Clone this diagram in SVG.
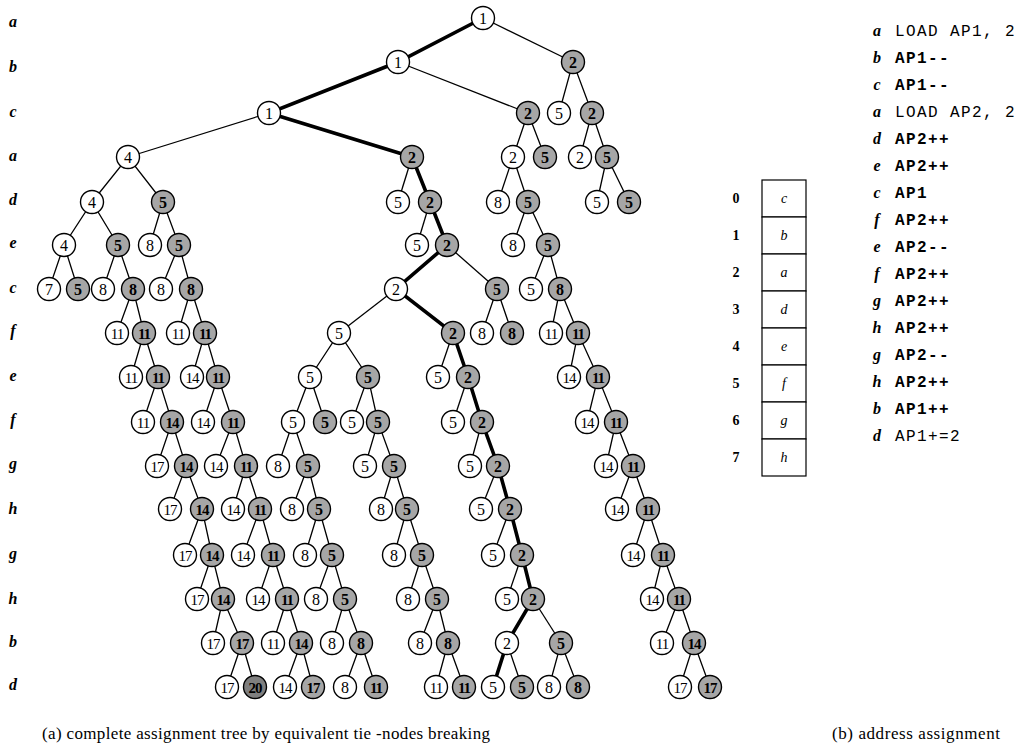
<svg xmlns="http://www.w3.org/2000/svg" width="1029" height="746" viewBox="0 0 1029 746">
<style>
.e path{fill:none;stroke:#000;stroke-width:1.3}
.e .t{stroke-width:3.6}
.w circle{fill:#fff;stroke:#000;stroke-width:1.4}
.s circle{fill:#a6a6a6;stroke:#000;stroke-width:1.4}
.d circle{fill:#7f7f7f;stroke:#000;stroke-width:1.4}
.nd text{font-family:"Liberation Serif",serif;font-size:16px;text-anchor:middle}
.s text,.d text{font-weight:bold}
.nd text.two{font-size:15px;letter-spacing:-1px}
.lv{font-family:"Liberation Serif",serif;font-size:16px;font-style:italic;font-weight:bold;text-anchor:middle}
.cap{font-family:"Liberation Serif",serif;font-size:17px}
.code{font-family:"Liberation Mono",monospace;font-size:16px;letter-spacing:1.4px}
.code.b{font-weight:bold}
.cell rect{fill:#fff;stroke:#000;stroke-width:1.2}
.ci{font-family:"Liberation Serif",serif;font-size:14px;font-style:italic;text-anchor:middle}
.idx{font-family:"Liberation Serif",serif;font-size:14px;font-weight:bold;text-anchor:middle}
</style>
<rect width="1029" height="746" fill="#fff"/>
<g id="levels">
<text class="lv" x="13" y="27">a</text>
<text class="lv" x="13" y="72">b</text>
<text class="lv" x="13" y="117">c</text>
<text class="lv" x="13" y="161">a</text>
<text class="lv" x="13" y="205">d</text>
<text class="lv" x="13" y="248">e</text>
<text class="lv" x="13" y="293">c</text>
<text class="lv" x="13" y="336">f</text>
<text class="lv" x="13" y="381">e</text>
<text class="lv" x="13" y="425">f</text>
<text class="lv" x="13" y="469">g</text>
<text class="lv" x="13" y="514">h</text>
<text class="lv" x="13" y="559">g</text>
<text class="lv" x="13" y="604">h</text>
<text class="lv" x="13" y="647">b</text>
<text class="lv" x="13" y="690">d</text>
</g>
<g id="connectors" class="e">
<path class="t" d="M483 18L398 62L269 113L412 157L430 202L447 245L396 289L453 333L468 377L482 422L498 466L510 509L522 555L533 599L507 643L493 687"/>
<path d="M483 18L573 62"/>
<path d="M398 62L528 113"/>
<path d="M559 113L573 62L592 113"/>
<path d="M269 113L128 157"/>
<path d="M513 157L528 113L545 157"/>
<path d="M580 157L592 113L607 157"/>
<path d="M92 202L128 157L163 202"/>
<path d="M412 157L398 202"/>
<path d="M498 202L513 157L528 202"/>
<path d="M597 202L607 157L629 202"/>
<path d="M64 245L92 202L118 245"/>
<path d="M150 245L163 202L179 245"/>
<path d="M430 202L417 245"/>
<path d="M513 245L528 202L548 245"/>
<path d="M49 289L64 245L78 289"/>
<path d="M103 289L118 245L133 289"/>
<path d="M161 289L179 245L191 289"/>
<path d="M447 245L497 289"/>
<path d="M531 289L548 245L560 289"/>
<path d="M117 333L133 289L144 333"/>
<path d="M178 333L191 289L205 333"/>
<path d="M396 289L339 333"/>
<path d="M482 333L497 289L512 333"/>
<path d="M551 333L560 289L578 333"/>
<path d="M131 377L144 333L158 377"/>
<path d="M192 377L205 333L218 377"/>
<path d="M310 377L339 333L368 377"/>
<path d="M453 333L438 377"/>
<path d="M569 377L578 333L598 377"/>
<path d="M143 422L158 377L172 422"/>
<path d="M203 422L218 377L233 422"/>
<path d="M293 422L310 377L325 422"/>
<path d="M352 422L368 377L378 422"/>
<path d="M468 377L453 422"/>
<path d="M587 422L598 377L616 422"/>
<path d="M157 466L172 422L186 466"/>
<path d="M216 466L233 422L246 466"/>
<path d="M278 466L293 422L308 466"/>
<path d="M365 466L378 422L394 466"/>
<path d="M482 422L470 466"/>
<path d="M606 466L616 422L633 466"/>
<path d="M170 509L186 466L202 509"/>
<path d="M233 509L246 466L260 509"/>
<path d="M292 509L308 466L319 509"/>
<path d="M381 509L394 466L407 509"/>
<path d="M498 466L481 509"/>
<path d="M617 509L633 466L648 509"/>
<path d="M185 555L202 509L212 555"/>
<path d="M243 555L260 509L273 555"/>
<path d="M305 555L319 509L332 555"/>
<path d="M394 555L407 509L422 555"/>
<path d="M510 509L493 555"/>
<path d="M633 555L648 509L663 555"/>
<path d="M197 599L212 555L223 599"/>
<path d="M258 599L273 555L287 599"/>
<path d="M316 599L332 555L345 599"/>
<path d="M408 599L422 555L437 599"/>
<path d="M522 555L507 599"/>
<path d="M652 599L663 555L679 599"/>
<path d="M213 643L223 599L242 643"/>
<path d="M273 643L287 599L301 643"/>
<path d="M332 643L345 599L361 643"/>
<path d="M420 643L437 599L448 643"/>
<path d="M533 599L561 643"/>
<path d="M662 643L679 599L694 643"/>
<path d="M227 687L242 643L255 687"/>
<path d="M285 687L301 643L313 687"/>
<path d="M345 687L361 643L376 687"/>
<path d="M436 687L448 643L464 687"/>
<path d="M507 643L522 687"/>
<path d="M549 687L561 643L578 687"/>
<path d="M680 687L694 643L710 687"/>
</g>
<g id="nodes" class="nd">
<g id="n0_483" class="w"><circle cx="483" cy="18" r="11.5"/><text x="483" y="23.5">1</text></g>
<g id="n1_398" class="w"><circle cx="398" cy="62" r="11.5"/><text x="398" y="67.5">1</text></g>
<g id="n1_573" class="s"><circle cx="573" cy="62" r="11.5"/><text x="573" y="67.5">2</text></g>
<g id="n2_269" class="w"><circle cx="269" cy="113" r="11.5"/><text x="269" y="118.5">1</text></g>
<g id="n2_528" class="s"><circle cx="528" cy="113" r="11.5"/><text x="528" y="118.5">2</text></g>
<g id="n2_559" class="w"><circle cx="559" cy="113" r="11.5"/><text x="559" y="118.5">5</text></g>
<g id="n2_592" class="s"><circle cx="592" cy="113" r="11.5"/><text x="592" y="118.5">2</text></g>
<g id="n3_128" class="w"><circle cx="128" cy="157" r="11.5"/><text x="128" y="162.5">4</text></g>
<g id="n3_412" class="s"><circle cx="412" cy="157" r="11.5"/><text x="412" y="162.5">2</text></g>
<g id="n3_513" class="w"><circle cx="513" cy="157" r="11.5"/><text x="513" y="162.5">2</text></g>
<g id="n3_545" class="s"><circle cx="545" cy="157" r="11.5"/><text x="545" y="162.5">5</text></g>
<g id="n3_580" class="w"><circle cx="580" cy="157" r="11.5"/><text x="580" y="162.5">2</text></g>
<g id="n3_607" class="s"><circle cx="607" cy="157" r="11.5"/><text x="607" y="162.5">5</text></g>
<g id="n4_92" class="w"><circle cx="92" cy="202" r="11.5"/><text x="92" y="207.5">4</text></g>
<g id="n4_163" class="s"><circle cx="163" cy="202" r="11.5"/><text x="163" y="207.5">5</text></g>
<g id="n4_398" class="w"><circle cx="398" cy="202" r="11.5"/><text x="398" y="207.5">5</text></g>
<g id="n4_430" class="s"><circle cx="430" cy="202" r="11.5"/><text x="430" y="207.5">2</text></g>
<g id="n4_498" class="w"><circle cx="498" cy="202" r="11.5"/><text x="498" y="207.5">8</text></g>
<g id="n4_528" class="s"><circle cx="528" cy="202" r="11.5"/><text x="528" y="207.5">5</text></g>
<g id="n4_597" class="w"><circle cx="597" cy="202" r="11.5"/><text x="597" y="207.5">5</text></g>
<g id="n4_629" class="s"><circle cx="629" cy="202" r="11.5"/><text x="629" y="207.5">5</text></g>
<g id="n5_64" class="w"><circle cx="64" cy="245" r="11.5"/><text x="64" y="250.5">4</text></g>
<g id="n5_118" class="s"><circle cx="118" cy="245" r="11.5"/><text x="118" y="250.5">5</text></g>
<g id="n5_150" class="w"><circle cx="150" cy="245" r="11.5"/><text x="150" y="250.5">8</text></g>
<g id="n5_179" class="s"><circle cx="179" cy="245" r="11.5"/><text x="179" y="250.5">5</text></g>
<g id="n5_417" class="w"><circle cx="417" cy="245" r="11.5"/><text x="417" y="250.5">5</text></g>
<g id="n5_447" class="s"><circle cx="447" cy="245" r="11.5"/><text x="447" y="250.5">2</text></g>
<g id="n5_513" class="w"><circle cx="513" cy="245" r="11.5"/><text x="513" y="250.5">8</text></g>
<g id="n5_548" class="s"><circle cx="548" cy="245" r="11.5"/><text x="548" y="250.5">5</text></g>
<g id="n6_49" class="w"><circle cx="49" cy="289" r="11.5"/><text x="49" y="294.5">7</text></g>
<g id="n6_78" class="s"><circle cx="78" cy="289" r="11.5"/><text x="78" y="294.5">5</text></g>
<g id="n6_103" class="w"><circle cx="103" cy="289" r="11.5"/><text x="103" y="294.5">8</text></g>
<g id="n6_133" class="s"><circle cx="133" cy="289" r="11.5"/><text x="133" y="294.5">8</text></g>
<g id="n6_161" class="w"><circle cx="161" cy="289" r="11.5"/><text x="161" y="294.5">8</text></g>
<g id="n6_191" class="s"><circle cx="191" cy="289" r="11.5"/><text x="191" y="294.5">8</text></g>
<g id="n6_396" class="w"><circle cx="396" cy="289" r="11.5"/><text x="396" y="294.5">2</text></g>
<g id="n6_497" class="s"><circle cx="497" cy="289" r="11.5"/><text x="497" y="294.5">5</text></g>
<g id="n6_531" class="w"><circle cx="531" cy="289" r="11.5"/><text x="531" y="294.5">5</text></g>
<g id="n6_560" class="s"><circle cx="560" cy="289" r="11.5"/><text x="560" y="294.5">8</text></g>
<g id="n7_117" class="w"><circle cx="117" cy="333" r="11.5"/><text class="two" x="117" y="338.5">11</text></g>
<g id="n7_144" class="s"><circle cx="144" cy="333" r="11.5"/><text class="two" x="144" y="338.5">11</text></g>
<g id="n7_178" class="w"><circle cx="178" cy="333" r="11.5"/><text class="two" x="178" y="338.5">11</text></g>
<g id="n7_205" class="s"><circle cx="205" cy="333" r="11.5"/><text class="two" x="205" y="338.5">11</text></g>
<g id="n7_339" class="w"><circle cx="339" cy="333" r="11.5"/><text x="339" y="338.5">5</text></g>
<g id="n7_453" class="s"><circle cx="453" cy="333" r="11.5"/><text x="453" y="338.5">2</text></g>
<g id="n7_482" class="w"><circle cx="482" cy="333" r="11.5"/><text x="482" y="338.5">8</text></g>
<g id="n7_512" class="s"><circle cx="512" cy="333" r="11.5"/><text x="512" y="338.5">8</text></g>
<g id="n7_551" class="w"><circle cx="551" cy="333" r="11.5"/><text class="two" x="551" y="338.5">11</text></g>
<g id="n7_578" class="s"><circle cx="578" cy="333" r="11.5"/><text class="two" x="578" y="338.5">11</text></g>
<g id="n8_131" class="w"><circle cx="131" cy="377" r="11.5"/><text class="two" x="131" y="382.5">11</text></g>
<g id="n8_158" class="s"><circle cx="158" cy="377" r="11.5"/><text class="two" x="158" y="382.5">11</text></g>
<g id="n8_192" class="w"><circle cx="192" cy="377" r="11.5"/><text class="two" x="192" y="382.5">14</text></g>
<g id="n8_218" class="s"><circle cx="218" cy="377" r="11.5"/><text class="two" x="218" y="382.5">11</text></g>
<g id="n8_310" class="w"><circle cx="310" cy="377" r="11.5"/><text x="310" y="382.5">5</text></g>
<g id="n8_368" class="s"><circle cx="368" cy="377" r="11.5"/><text x="368" y="382.5">5</text></g>
<g id="n8_438" class="w"><circle cx="438" cy="377" r="11.5"/><text x="438" y="382.5">5</text></g>
<g id="n8_468" class="s"><circle cx="468" cy="377" r="11.5"/><text x="468" y="382.5">2</text></g>
<g id="n8_569" class="w"><circle cx="569" cy="377" r="11.5"/><text class="two" x="569" y="382.5">14</text></g>
<g id="n8_598" class="s"><circle cx="598" cy="377" r="11.5"/><text class="two" x="598" y="382.5">11</text></g>
<g id="n9_143" class="w"><circle cx="143" cy="422" r="11.5"/><text class="two" x="143" y="427.5">11</text></g>
<g id="n9_172" class="s"><circle cx="172" cy="422" r="11.5"/><text class="two" x="172" y="427.5">14</text></g>
<g id="n9_203" class="w"><circle cx="203" cy="422" r="11.5"/><text class="two" x="203" y="427.5">14</text></g>
<g id="n9_233" class="s"><circle cx="233" cy="422" r="11.5"/><text class="two" x="233" y="427.5">11</text></g>
<g id="n9_293" class="w"><circle cx="293" cy="422" r="11.5"/><text x="293" y="427.5">5</text></g>
<g id="n9_325" class="s"><circle cx="325" cy="422" r="11.5"/><text x="325" y="427.5">5</text></g>
<g id="n9_352" class="w"><circle cx="352" cy="422" r="11.5"/><text x="352" y="427.5">5</text></g>
<g id="n9_378" class="s"><circle cx="378" cy="422" r="11.5"/><text x="378" y="427.5">5</text></g>
<g id="n9_453" class="w"><circle cx="453" cy="422" r="11.5"/><text x="453" y="427.5">5</text></g>
<g id="n9_482" class="s"><circle cx="482" cy="422" r="11.5"/><text x="482" y="427.5">2</text></g>
<g id="n9_587" class="w"><circle cx="587" cy="422" r="11.5"/><text class="two" x="587" y="427.5">14</text></g>
<g id="n9_616" class="s"><circle cx="616" cy="422" r="11.5"/><text class="two" x="616" y="427.5">11</text></g>
<g id="n10_157" class="w"><circle cx="157" cy="466" r="11.5"/><text class="two" x="157" y="471.5">17</text></g>
<g id="n10_186" class="s"><circle cx="186" cy="466" r="11.5"/><text class="two" x="186" y="471.5">14</text></g>
<g id="n10_216" class="w"><circle cx="216" cy="466" r="11.5"/><text class="two" x="216" y="471.5">14</text></g>
<g id="n10_246" class="s"><circle cx="246" cy="466" r="11.5"/><text class="two" x="246" y="471.5">11</text></g>
<g id="n10_278" class="w"><circle cx="278" cy="466" r="11.5"/><text x="278" y="471.5">8</text></g>
<g id="n10_308" class="s"><circle cx="308" cy="466" r="11.5"/><text x="308" y="471.5">5</text></g>
<g id="n10_365" class="w"><circle cx="365" cy="466" r="11.5"/><text x="365" y="471.5">5</text></g>
<g id="n10_394" class="s"><circle cx="394" cy="466" r="11.5"/><text x="394" y="471.5">5</text></g>
<g id="n10_470" class="w"><circle cx="470" cy="466" r="11.5"/><text x="470" y="471.5">5</text></g>
<g id="n10_498" class="s"><circle cx="498" cy="466" r="11.5"/><text x="498" y="471.5">2</text></g>
<g id="n10_606" class="w"><circle cx="606" cy="466" r="11.5"/><text class="two" x="606" y="471.5">14</text></g>
<g id="n10_633" class="s"><circle cx="633" cy="466" r="11.5"/><text class="two" x="633" y="471.5">11</text></g>
<g id="n11_170" class="w"><circle cx="170" cy="509" r="11.5"/><text class="two" x="170" y="514.5">17</text></g>
<g id="n11_202" class="s"><circle cx="202" cy="509" r="11.5"/><text class="two" x="202" y="514.5">14</text></g>
<g id="n11_233" class="w"><circle cx="233" cy="509" r="11.5"/><text class="two" x="233" y="514.5">14</text></g>
<g id="n11_260" class="s"><circle cx="260" cy="509" r="11.5"/><text class="two" x="260" y="514.5">11</text></g>
<g id="n11_292" class="w"><circle cx="292" cy="509" r="11.5"/><text x="292" y="514.5">8</text></g>
<g id="n11_319" class="s"><circle cx="319" cy="509" r="11.5"/><text x="319" y="514.5">5</text></g>
<g id="n11_381" class="w"><circle cx="381" cy="509" r="11.5"/><text x="381" y="514.5">8</text></g>
<g id="n11_407" class="s"><circle cx="407" cy="509" r="11.5"/><text x="407" y="514.5">5</text></g>
<g id="n11_481" class="w"><circle cx="481" cy="509" r="11.5"/><text x="481" y="514.5">5</text></g>
<g id="n11_510" class="s"><circle cx="510" cy="509" r="11.5"/><text x="510" y="514.5">2</text></g>
<g id="n11_617" class="w"><circle cx="617" cy="509" r="11.5"/><text class="two" x="617" y="514.5">14</text></g>
<g id="n11_648" class="s"><circle cx="648" cy="509" r="11.5"/><text class="two" x="648" y="514.5">11</text></g>
<g id="n12_185" class="w"><circle cx="185" cy="555" r="11.5"/><text class="two" x="185" y="560.5">17</text></g>
<g id="n12_212" class="s"><circle cx="212" cy="555" r="11.5"/><text class="two" x="212" y="560.5">14</text></g>
<g id="n12_243" class="w"><circle cx="243" cy="555" r="11.5"/><text class="two" x="243" y="560.5">14</text></g>
<g id="n12_273" class="s"><circle cx="273" cy="555" r="11.5"/><text class="two" x="273" y="560.5">11</text></g>
<g id="n12_305" class="w"><circle cx="305" cy="555" r="11.5"/><text x="305" y="560.5">8</text></g>
<g id="n12_332" class="s"><circle cx="332" cy="555" r="11.5"/><text x="332" y="560.5">5</text></g>
<g id="n12_394" class="w"><circle cx="394" cy="555" r="11.5"/><text x="394" y="560.5">8</text></g>
<g id="n12_422" class="s"><circle cx="422" cy="555" r="11.5"/><text x="422" y="560.5">5</text></g>
<g id="n12_493" class="w"><circle cx="493" cy="555" r="11.5"/><text x="493" y="560.5">5</text></g>
<g id="n12_522" class="s"><circle cx="522" cy="555" r="11.5"/><text x="522" y="560.5">2</text></g>
<g id="n12_633" class="w"><circle cx="633" cy="555" r="11.5"/><text class="two" x="633" y="560.5">14</text></g>
<g id="n12_663" class="s"><circle cx="663" cy="555" r="11.5"/><text class="two" x="663" y="560.5">11</text></g>
<g id="n13_197" class="w"><circle cx="197" cy="599" r="11.5"/><text class="two" x="197" y="604.5">17</text></g>
<g id="n13_223" class="s"><circle cx="223" cy="599" r="11.5"/><text class="two" x="223" y="604.5">14</text></g>
<g id="n13_258" class="w"><circle cx="258" cy="599" r="11.5"/><text class="two" x="258" y="604.5">14</text></g>
<g id="n13_287" class="s"><circle cx="287" cy="599" r="11.5"/><text class="two" x="287" y="604.5">11</text></g>
<g id="n13_316" class="w"><circle cx="316" cy="599" r="11.5"/><text x="316" y="604.5">8</text></g>
<g id="n13_345" class="s"><circle cx="345" cy="599" r="11.5"/><text x="345" y="604.5">5</text></g>
<g id="n13_408" class="w"><circle cx="408" cy="599" r="11.5"/><text x="408" y="604.5">8</text></g>
<g id="n13_437" class="s"><circle cx="437" cy="599" r="11.5"/><text x="437" y="604.5">5</text></g>
<g id="n13_507" class="w"><circle cx="507" cy="599" r="11.5"/><text x="507" y="604.5">5</text></g>
<g id="n13_533" class="s"><circle cx="533" cy="599" r="11.5"/><text x="533" y="604.5">2</text></g>
<g id="n13_652" class="w"><circle cx="652" cy="599" r="11.5"/><text class="two" x="652" y="604.5">14</text></g>
<g id="n13_679" class="s"><circle cx="679" cy="599" r="11.5"/><text class="two" x="679" y="604.5">11</text></g>
<g id="n14_213" class="w"><circle cx="213" cy="643" r="11.5"/><text class="two" x="213" y="648.5">17</text></g>
<g id="n14_242" class="s"><circle cx="242" cy="643" r="11.5"/><text class="two" x="242" y="648.5">17</text></g>
<g id="n14_273" class="w"><circle cx="273" cy="643" r="11.5"/><text class="two" x="273" y="648.5">11</text></g>
<g id="n14_301" class="s"><circle cx="301" cy="643" r="11.5"/><text class="two" x="301" y="648.5">14</text></g>
<g id="n14_332" class="w"><circle cx="332" cy="643" r="11.5"/><text x="332" y="648.5">8</text></g>
<g id="n14_361" class="s"><circle cx="361" cy="643" r="11.5"/><text x="361" y="648.5">8</text></g>
<g id="n14_420" class="w"><circle cx="420" cy="643" r="11.5"/><text x="420" y="648.5">8</text></g>
<g id="n14_448" class="s"><circle cx="448" cy="643" r="11.5"/><text x="448" y="648.5">8</text></g>
<g id="n14_507" class="w"><circle cx="507" cy="643" r="11.5"/><text x="507" y="648.5">2</text></g>
<g id="n14_561" class="s"><circle cx="561" cy="643" r="11.5"/><text x="561" y="648.5">5</text></g>
<g id="n14_662" class="w"><circle cx="662" cy="643" r="11.5"/><text class="two" x="662" y="648.5">11</text></g>
<g id="n14_694" class="s"><circle cx="694" cy="643" r="11.5"/><text class="two" x="694" y="648.5">14</text></g>
<g id="n15_227" class="w"><circle cx="227" cy="687" r="11.5"/><text class="two" x="227" y="692.5">17</text></g>
<g id="n15_255" class="d"><circle cx="255" cy="687" r="11.5"/><text class="two" x="255" y="692.5">20</text></g>
<g id="n15_285" class="w"><circle cx="285" cy="687" r="11.5"/><text class="two" x="285" y="692.5">14</text></g>
<g id="n15_313" class="s"><circle cx="313" cy="687" r="11.5"/><text class="two" x="313" y="692.5">17</text></g>
<g id="n15_345" class="w"><circle cx="345" cy="687" r="11.5"/><text x="345" y="692.5">8</text></g>
<g id="n15_376" class="s"><circle cx="376" cy="687" r="11.5"/><text class="two" x="376" y="692.5">11</text></g>
<g id="n15_436" class="w"><circle cx="436" cy="687" r="11.5"/><text class="two" x="436" y="692.5">11</text></g>
<g id="n15_464" class="s"><circle cx="464" cy="687" r="11.5"/><text class="two" x="464" y="692.5">11</text></g>
<g id="n15_493" class="w"><circle cx="493" cy="687" r="11.5"/><text x="493" y="692.5">5</text></g>
<g id="n15_522" class="s"><circle cx="522" cy="687" r="11.5"/><text x="522" y="692.5">5</text></g>
<g id="n15_549" class="w"><circle cx="549" cy="687" r="11.5"/><text x="549" y="692.5">8</text></g>
<g id="n15_578" class="s"><circle cx="578" cy="687" r="11.5"/><text x="578" y="692.5">8</text></g>
<g id="n15_680" class="w"><circle cx="680" cy="687" r="11.5"/><text class="two" x="680" y="692.5">17</text></g>
<g id="n15_710" class="s"><circle cx="710" cy="687" r="11.5"/><text class="two" x="710" y="692.5">17</text></g>
</g>
<g id="memory" class="cell">
<rect x="762" y="180" width="44" height="37"/>
<rect x="762" y="217" width="44" height="37"/>
<rect x="762" y="254" width="44" height="37"/>
<rect x="762" y="291" width="44" height="37"/>
<rect x="762" y="328" width="44" height="37"/>
<rect x="762" y="365" width="44" height="37"/>
<rect x="762" y="402" width="44" height="37"/>
<rect x="762" y="439" width="44" height="37"/>
<text class="ci" x="784" y="203">c</text>
<text class="ci" x="784" y="240">b</text>
<text class="ci" x="784" y="277">a</text>
<text class="ci" x="784" y="314">d</text>
<text class="ci" x="784" y="351">e</text>
<text class="ci" x="784" y="388">f</text>
<text class="ci" x="784" y="425">g</text>
<text class="ci" x="784" y="462">h</text>
<text class="idx" x="736" y="203">0</text>
<text class="idx" x="736" y="240">1</text>
<text class="idx" x="736" y="277">2</text>
<text class="idx" x="736" y="314">3</text>
<text class="idx" x="736" y="351">4</text>
<text class="idx" x="736" y="388">5</text>
<text class="idx" x="736" y="425">6</text>
<text class="idx" x="736" y="462">7</text>
</g>
<g id="program">
<text class="lv" x="877" y="36">a</text><text class="code" x="895" y="36">LOAD AP1, 2</text>
<text class="lv" x="877" y="63">b</text><text class="code b" x="895" y="63">AP1--</text>
<text class="lv" x="877" y="90">c</text><text class="code b" x="895" y="90">AP1--</text>
<text class="lv" x="877" y="117">a</text><text class="code" x="895" y="117">LOAD AP2, 2</text>
<text class="lv" x="877" y="144">d</text><text class="code b" x="895" y="144">AP2++</text>
<text class="lv" x="877" y="171">e</text><text class="code b" x="895" y="171">AP2++</text>
<text class="lv" x="877" y="198">c</text><text class="code b" x="895" y="198">AP1</text>
<text class="lv" x="877" y="225">f</text><text class="code b" x="895" y="225">AP2++</text>
<text class="lv" x="877" y="252">e</text><text class="code b" x="895" y="252">AP2--</text>
<text class="lv" x="877" y="279">f</text><text class="code b" x="895" y="279">AP2++</text>
<text class="lv" x="877" y="306">g</text><text class="code b" x="895" y="306">AP2++</text>
<text class="lv" x="877" y="333">h</text><text class="code b" x="895" y="333">AP2++</text>
<text class="lv" x="877" y="360">g</text><text class="code b" x="895" y="360">AP2--</text>
<text class="lv" x="877" y="387">h</text><text class="code b" x="895" y="387">AP2++</text>
<text class="lv" x="877" y="414">b</text><text class="code b" x="895" y="414">AP1++</text>
<text class="lv" x="877" y="441">d</text><text class="code" x="895" y="441">AP1+=2</text>
</g>
<g id="captions">
<text class="cap" x="42" y="739" textLength="448" lengthAdjust="spacing">(a) complete assignment tree by equivalent tie -nodes breaking</text>
<text class="cap" x="832" y="739" textLength="168" lengthAdjust="spacing">(b) address assignment</text>
</g>
</svg>
